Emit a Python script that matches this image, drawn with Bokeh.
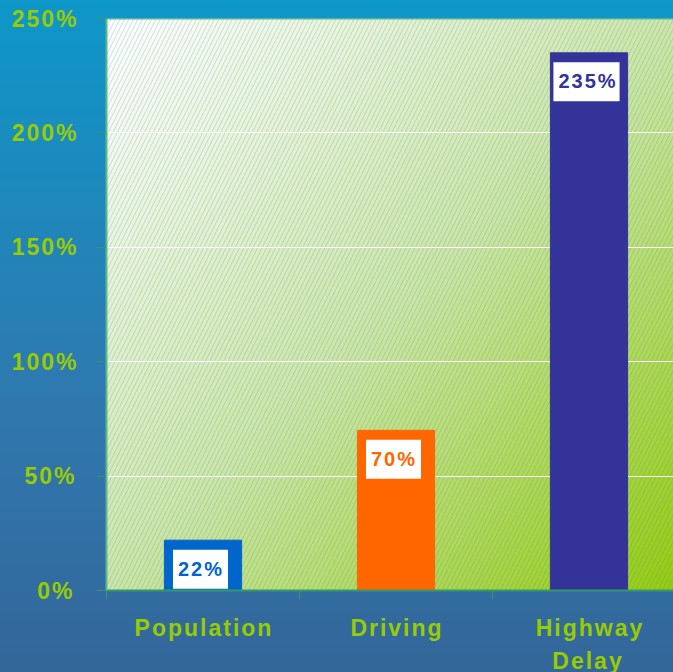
import numpy as np
from bokeh.plotting import figure
from bokeh.models import (Range1d, FixedTicker, PrintfTickFormatter, Span,
                          InlineStyleSheet, GlobalInlineStyleSheet)
from bokeh.embed import file_html
from bokeh.resources import INLINE
from bokeh.core.properties import value

categories = ["Population", "Driving", "Highway\nDelay"]
values = [22, 70, 235]
labels = ["22%", "70%", "235%"]
bar_colors = ["#0066cc", "#ff6600", "#333399"]
y_ticks = [0, 50, 100, 150, 200, 250]

LS = 2            # letter spacing in px (CSS)
FRAME_W = 579
PX_PER_CAT = FRAME_W / len(categories)

xs = [i + 0.5 for i in range(len(categories))]
bounds = [float(i) for i in range(len(categories) + 1)]
# letter-spaced text is drawn from its left edge, so nudge label anchors back to centre
label_ticks = [x - (max(len(s) for s in c.split("\n")) - 1) * LS / 2 / PX_PER_CAT
               for x, c in zip(xs, categories)]

p = figure(frame_width=FRAME_W, frame_height=572, x_range=Range1d(0, 3), y_range=Range1d(0, 250),
           output_backend="svg", toolbar_location=None,
           min_border_left=106, min_border_right=0, min_border_top=18, min_border_bottom=82)
p.styles = {"background": "linear-gradient(to bottom, #0e97c9 0%, #2f78ae 60%, #336699 100%)"}
p.stylesheets = [
    GlobalInlineStyleSheet(css="html, body { margin: 0; padding: 0; overflow: hidden; }"),
    InlineStyleSheet(css=":host { letter-spacing: %dpx; }" % LS),
]
p.border_fill_color = None
p.background_fill_color = None
p.outline_line_color = None

# plot-area diagonal gradient (white -> green)
n = 160
g = np.linspace(0, 1, n)
U, V = np.meshgrid(g, g)
t = (U + (1 - V)) / 2
stops_t = [0.0, 0.5, 1.0]
stops_c = [(255, 255, 255), (205, 230, 165), (150, 204, 10)]
img = np.empty((n, n), dtype=np.uint32)
view = img.view(dtype=np.uint8).reshape((n, n, 4))
for ch in range(3):
    view[..., ch] = np.interp(t, stops_t, [c[ch] for c in stops_c]).astype(np.uint8)
view[..., 3] = 255
p.image_rgba(image=[img], x=0, y=0, dw=3, dh=250, level="image")

p.quad(left=0, right=3, bottom=0, top=250, fill_alpha=0, line_color=None,
       hatch_pattern="/", hatch_scale=9, hatch_color="#3d8fb0", hatch_alpha=0.28,
       hatch_weight=1, level="image")

p.xgrid.grid_line_color = None
p.ygrid.grid_line_color = "white"
p.ygrid.grid_line_width = 1
p.ygrid.ticker = FixedTicker(ticks=y_ticks)

p.vbar(x=xs, top=values, width=0.4, color=bar_colors)

p.text(x=xs, y=values, text=labels, x_offset=-2.5, y_offset=29,
       text_align="center", text_baseline="middle",
       text_font=value("Liberation Sans"), text_font_style="bold", text_font_size="20px",
       text_color=bar_colors, background_fill_color="white",
       padding=dict(left=5, right=10, top=8, bottom=9))

p.add_layout(Span(location=250, dimension="width", line_color="#5cb88a", line_width=2))

p.xaxis.ticker = FixedTicker(ticks=label_ticks, minor_ticks=bounds)
p.xaxis.major_label_overrides = {x: c for x, c in zip(label_ticks, categories)}
p.xaxis.major_tick_line_color = None
p.xaxis.major_tick_out = 9
p.xaxis.major_tick_in = 0
p.xaxis.minor_tick_out = 9
p.xaxis.minor_tick_in = 0
p.xaxis.minor_tick_line_color = "#339966"
p.xaxis.axis_line_color = "#339966"
p.xaxis.axis_line_width = 2
p.xaxis.major_label_standoff = 15
p.xaxis.major_label_text_font = "Liberation Sans"
p.xaxis.major_label_text_font_style = "bold"
p.xaxis.major_label_text_font_size = "23px"
p.xaxis.major_label_text_color = "#99cc00"
p.xaxis.major_label_text_line_height = 1.3

p.yaxis.ticker = FixedTicker(ticks=y_ticks, minor_ticks=[])
p.yaxis.formatter = PrintfTickFormatter(format="%d%%")
p.yaxis.major_tick_out = 10
p.yaxis.major_tick_in = 0
p.yaxis.major_tick_line_color = "#339966"
p.yaxis.axis_line_color = "#5cb88a"
p.yaxis.axis_line_width = 2
p.yaxis.major_label_standoff = 26
p.yaxis.major_label_text_font = "Liberation Sans"
p.yaxis.major_label_text_font_style = "bold"
p.yaxis.major_label_text_font_size = "23px"
p.yaxis.major_label_text_color = "#99cc00"

open("out.html", "w").write(file_html(p, INLINE))
